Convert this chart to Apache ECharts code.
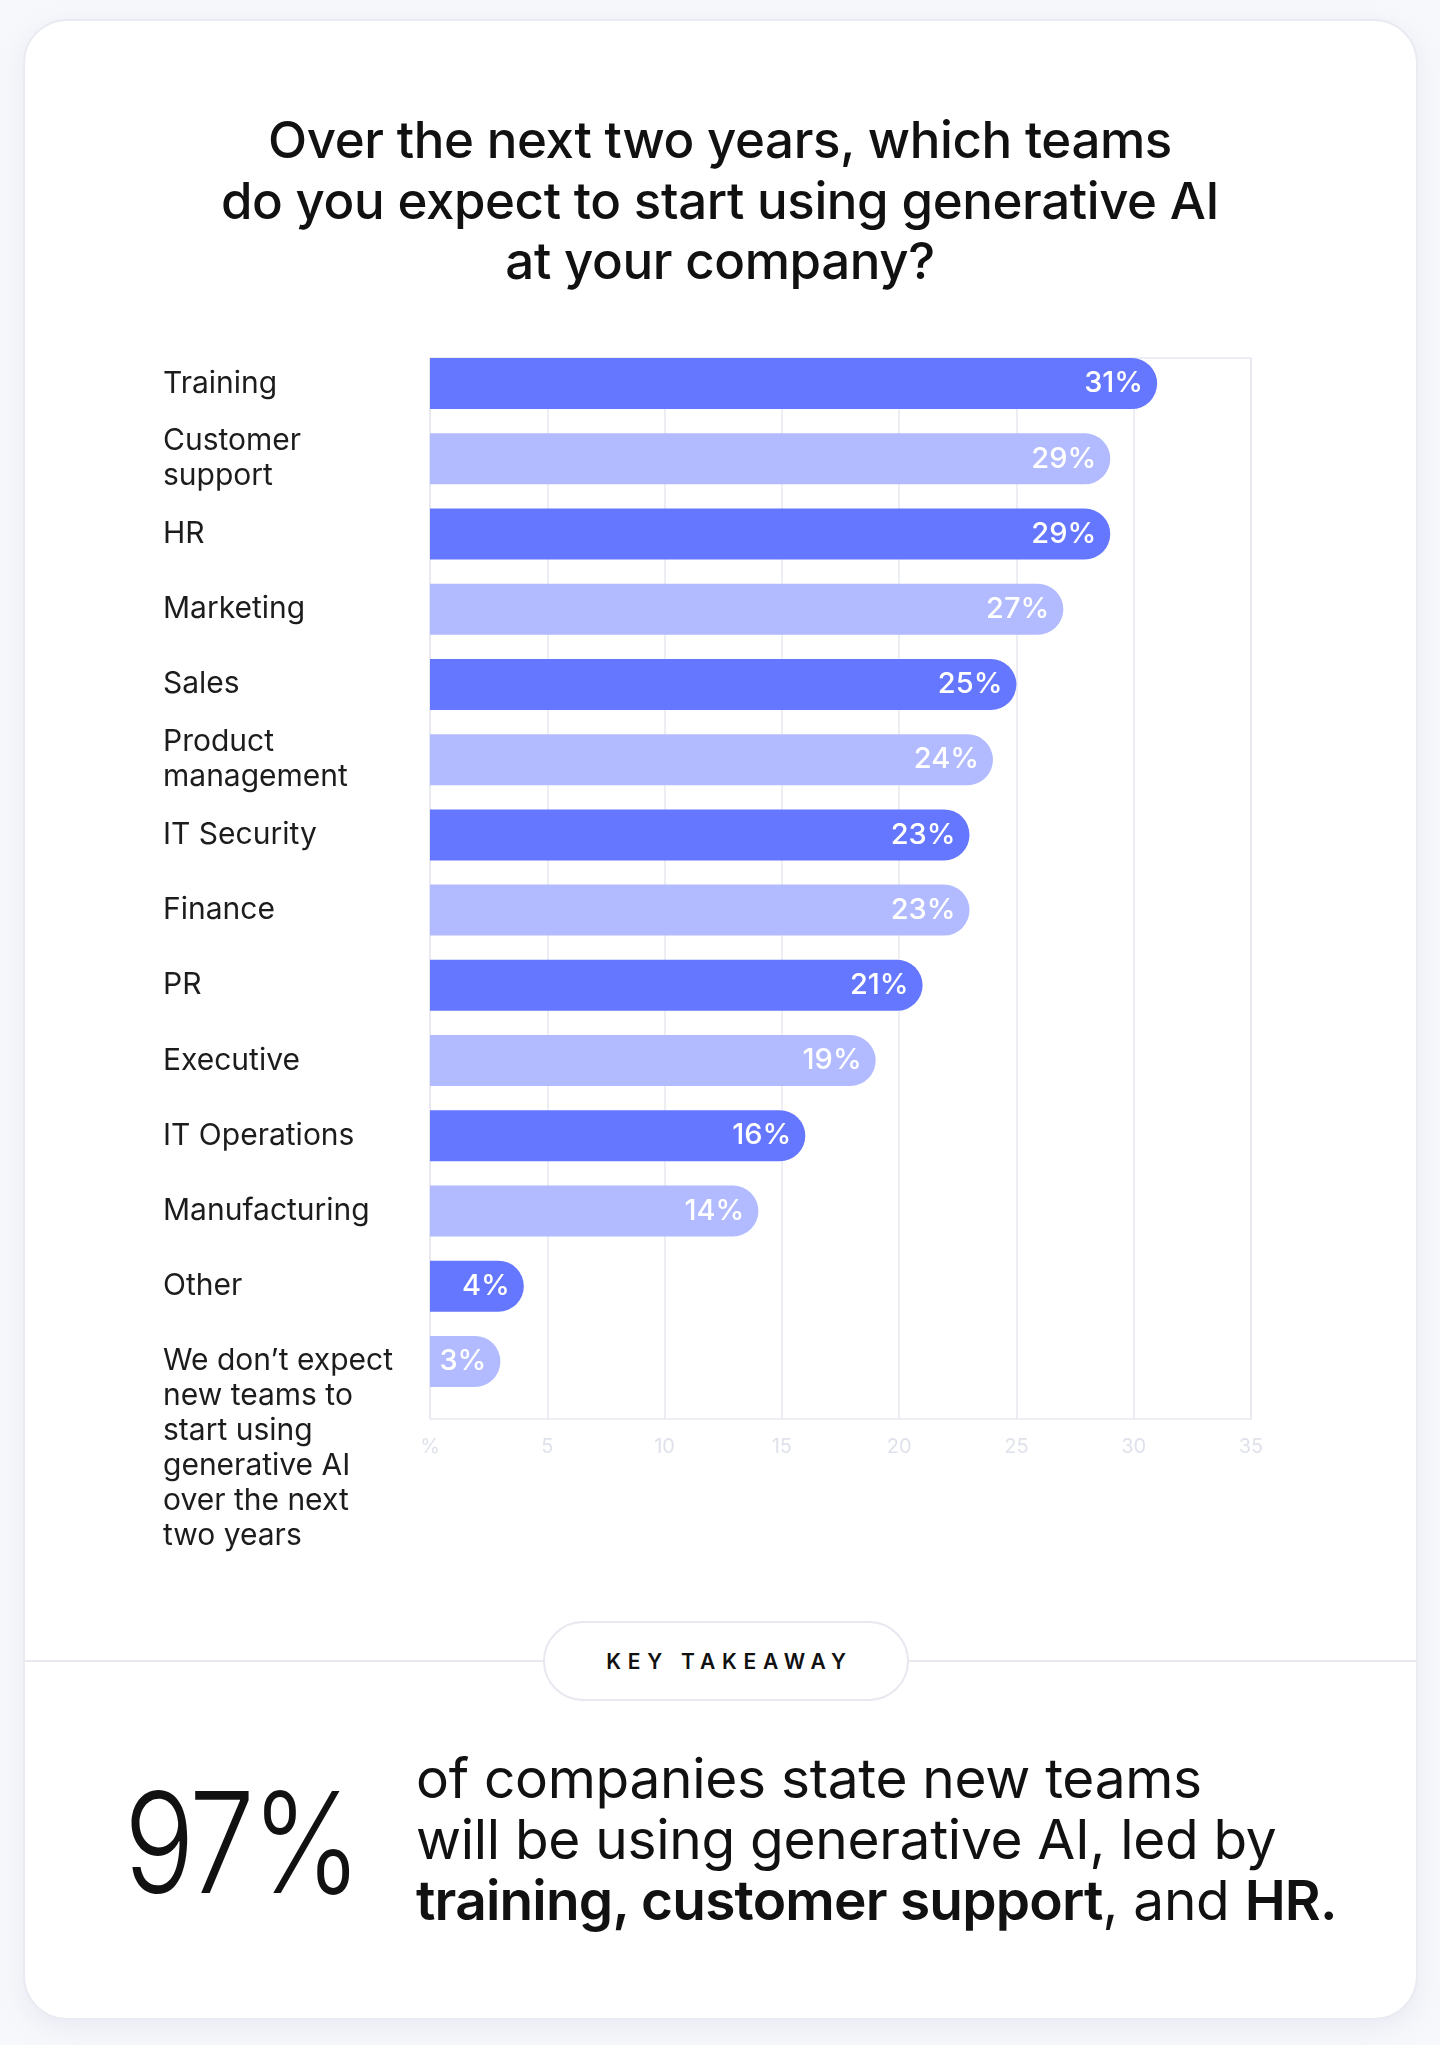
<!DOCTYPE html>
<html>
<head>
<meta charset="utf-8">
<script src="https://cdn.jsdelivr.net/npm/echarts@6/dist/echarts.min.js"></script>
<style>
  html, body { margin: 0; padding: 0; }
  body { width: 1440px; height: 2045px; background: #f7f8fb; position: relative; overflow: hidden; font-family: Inter, "Noto Sans", sans-serif; }
  #card { position: absolute; left: 23px; top: 19px; width: 1391px; height: 1997px; background: #fff; border: 2px solid #e9eaf2; border-radius: 44px; box-shadow: 0 8px 24px rgba(205,210,230,0.35); }
  #chart { position: absolute; left: 0; top: 0; width: 1440px; height: 1600px; }
  #title { position: absolute; left: 0; width: 1440px; top: 110px; text-align: center; font-size: 51px; line-height: 60.5px; font-weight: 500; color: #111; letter-spacing: -0.4px; }
  #divider { position: absolute; left: 25px; width: 1391px; top: 1660px; height: 2px; background: #e9eaf1; }
  #pill { position: absolute; left: 543px; top: 1621px; width: 355px; height: 76px; border: 2px solid #e7e8f0; border-radius: 40px; background: #fff; display: flex; align-items: center; justify-content: center; font-size: 21px; font-weight: 600; letter-spacing: 6.8px; color: #111; padding-left: 7px; box-sizing: content-box; }
  #big { position: absolute; left: 124px; top: 1752px; font-size: 140px; line-height: 180px; font-weight: 300; color: #111; letter-spacing: -4px; transform: scaleX(0.84); transform-origin: left center; }
  #para { position: absolute; left: 416px; top: 1748px; font-size: 55px; line-height: 61px; color: #111; font-weight: 400; letter-spacing: -0.3px; }
  #para b { font-weight: 600; letter-spacing: -0.8px; }
</style>
</head>
<body>
<div id="card"></div>
<div id="title">Over the next two years, which teams<br>do you expect to start using generative AI<br>at your company?</div>
<div id="chart"></div>
<div id="divider"></div>
<div id="pill">KEY TAKEAWAY</div>
<div id="big">97%</div>
<div id="para">of companies state new teams<br>will be using generative AI, led by<br><b>training, customer support</b>, and <b>HR.</b></div>
<script>
const categories = [
  'Training',
  'Customer\nsupport',
  'HR',
  'Marketing',
  'Sales',
  'Product\nmanagement',
  'IT Security',
  'Finance',
  'PR',
  'Executive',
  'IT Operations',
  'Manufacturing',
  'Other',
  'We don\u2019t expect\nnew teams to\nstart using\ngenerative AI\nover the next\ntwo years'
];
const values = [31, 29, 29, 27, 25, 24, 23, 23, 21, 19, 16, 14, 4, 3];
const xTicks = { min: 0, max: 35, interval: 5, zeroLabel: '%' };

const DARK = '#6577ff';
const LIGHT = '#b2bbff';

const chart = echarts.init(document.getElementById('chart'), null, { renderer: 'canvas' });

const catData = categories.map((c, i) => {
  if (i === categories.length - 1) {
    return { value: c, textStyle: { align: 'left', verticalAlign: 'top', padding: [-18, 0, 0, 0] } };
  }
  return c;
});

chart.setOption({
  backgroundColor: 'transparent',
  animation: false,
  grid: [
    { left: 430, top: 358, width: 821, height: 1061, show: true, borderColor: '#e7e9f1', borderWidth: 1.5, backgroundColor: 'transparent', outerBoundsMode: 'none', containLabel: false },
    { left: 430, top: 346, width: 821, height: 1053, outerBoundsMode: 'none', containLabel: false }
  ],
  xAxis: [
    {
      gridIndex: 0, type: 'value', min: xTicks.min, max: xTicks.max, interval: xTicks.interval,
      axisLine: { show: false }, axisTick: { show: false },
      splitLine: { show: true, lineStyle: { color: '#e7e9f1', width: 1.5 } },
      axisLabel: {
        color: '#dfe2eb', fontSize: 20, margin: 18, fontFamily: 'Inter',
        formatter: v => (v === xTicks.min ? xTicks.zeroLabel : String(v))
      }
    },
    { gridIndex: 1, type: 'value', min: xTicks.min, max: xTicks.max, show: false }
  ],
  yAxis: [
    { gridIndex: 0, type: 'category', data: categories, show: false },
    {
      gridIndex: 1, type: 'category', data: catData, inverse: true,
      axisLine: { show: false }, axisTick: { show: false }, splitLine: { show: false },
      axisLabel: {
        align: 'left', margin: 267, fontSize: 30, lineHeight: 35, color: '#1c1c1c',
        fontFamily: 'Inter', interval: 0
      }
    }
  ],
  series: [
    { type: 'bar', xAxisIndex: 0, yAxisIndex: 0, data: [], silent: true },
    {
      type: 'bar', xAxisIndex: 1, yAxisIndex: 1, data: values, barWidth: 51,
      itemStyle: {
        color: p => (p.dataIndex % 2 === 0 ? DARK : LIGHT),
        borderRadius: [0, 25.5, 25.5, 0]
      },
      label: {
        show: true, position: 'insideRight', distance: 14, color: '#fff',
        fontSize: 29, fontWeight: 500, fontFamily: 'Inter', formatter: '{c}%'
      }
    }
  ]
});
</script>
</body>
</html>
